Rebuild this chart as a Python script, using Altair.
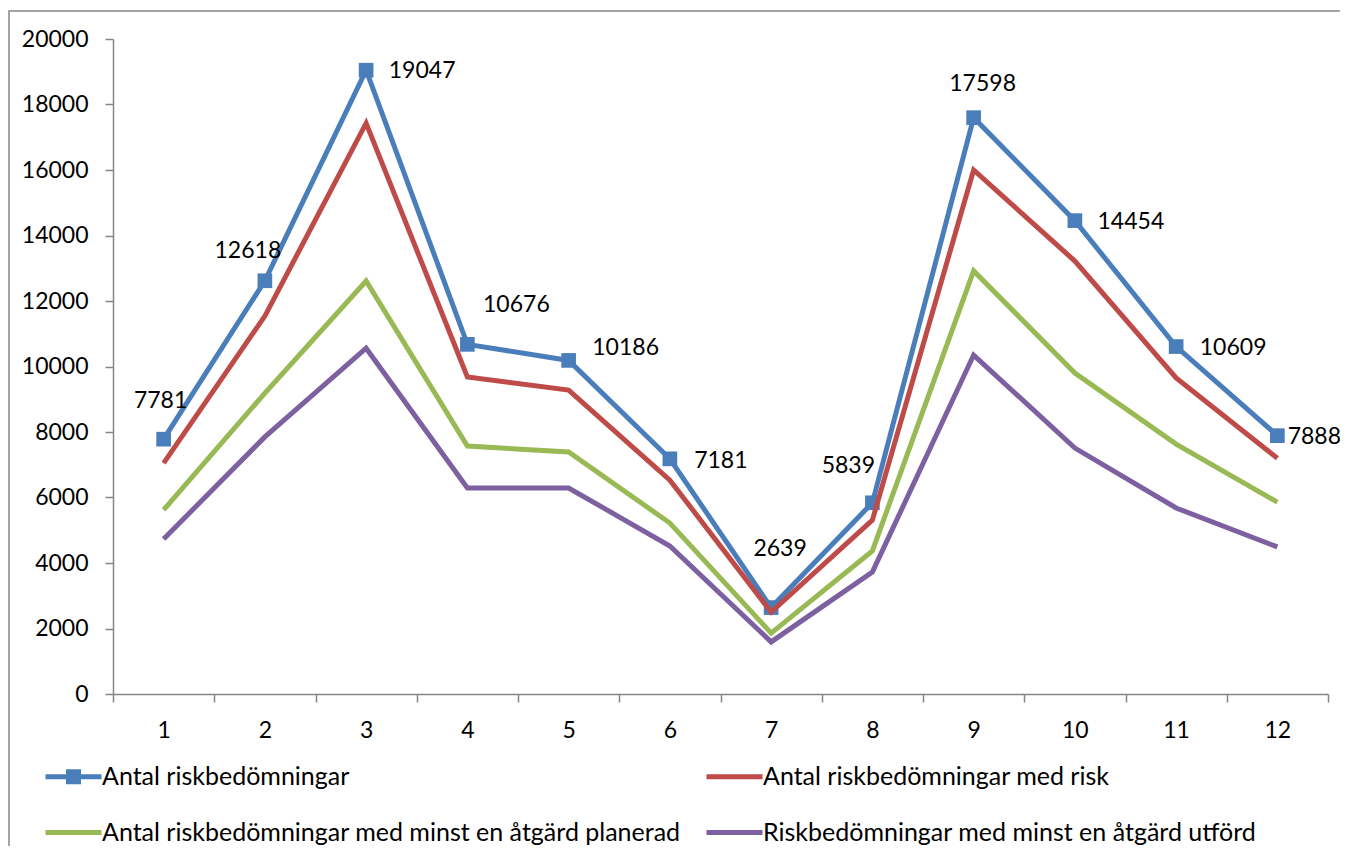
import altair as alt
import pandas as pd

months = list(range(1, 13))
series_names = [
    "Antal riskbedömningar",
    "Antal riskbedömningar med risk",
    "Antal riskbedömningar med minst en åtgärd planerad",
    "Riskbedömningar med minst en åtgärd utförd",
]
total = [7781, 12618, 19047, 10676, 10186, 7181, 2639, 5839, 17598, 14454, 10609, 7888]
with_risk = [7050, 11540, 17430, 9680, 9280, 6530, 2500, 5310, 16000, 13220, 9650, 7200]
planned = [5620, 9190, 12610, 7570, 7390, 5220, 1860, 4370, 12920, 9800, 7630, 5860]
done = [4730, 7850, 10560, 6290, 6290, 4520, 1590, 3720, 10350, 7510, 5680, 4490]

colors = ["#4A7EBB", "#BE4B48", "#98B954", "#7D60A0"]
FONT = "Lato"
FS = 23
LFS = 25

rows = []
for name, vals in zip(series_names, [total, with_risk, planned, done]):
    for m, v in zip(months, vals):
        rows.append({"month": m, "series": name, "value": v})
df = pd.DataFrame(rows)

# label placement (pixels, relative to point) per month
label_offsets = {
    1: (-3, -38), 2: (-17, -30), 3: (56, 1), 4: (49, -39), 5: (57, -12),
    6: (51, 2), 7: (9, -59), 8: (-24, -37), 9: (9, -34), 10: (56, 1),
    11: (57, 1), 12: (37, 1),
}

W, H = 1215, 655

x_enc = alt.X(
    "month:O",
    scale=alt.Scale(type="band", paddingInner=0, paddingOuter=0),
    bandPosition=0.5,
    axis=alt.Axis(
        title=None, labelAngle=0, tickBand="extent", tickSize=8,
        labelPadding=17, domainColor="#868686", tickColor="#868686",
        domainWidth=1.5, tickWidth=1.5,
    ),
)
y_enc = alt.Y(
    "value:Q",
    scale=alt.Scale(domain=[0, 20000], nice=False),
    axis=alt.Axis(
        title=None, values=list(range(0, 20001, 2000)), format="d",
        tickSize=8, labelPadding=17, domainColor="#868686",
        tickColor="#868686", domainWidth=1.5, tickWidth=1.5, grid=False,
    ),
)

color_scale = alt.Scale(domain=series_names, range=colors)

blue_df = df[df["series"] == series_names[0]]
other_df = df[df["series"] != series_names[0]]

blue_line = alt.Chart(blue_df).mark_line(strokeWidth=5, strokeJoin="miter").encode(
    x=x_enc, y=y_enc,
    color=alt.Color("series:N", scale=color_scale, legend=None),
    order=alt.Order("month:O"),
)

markers = alt.Chart(blue_df).mark_square(size=215, opacity=1).encode(
    x=x_enc, y=y_enc, color=alt.value(colors[0])
)

other_lines = alt.Chart(other_df).mark_line(strokeWidth=5, strokeJoin="miter").encode(
    x=x_enc, y=y_enc,
    color=alt.Color("series:N", scale=color_scale, legend=None),
    order=alt.Order("month:O"),
    detail="series:N",
)

line_path = "M-2.8,-0.25H2.8V0.25H-2.8Z"
marker_path = "M-2.8,-0.25H2.8V0.25H-2.8Z M-0.75,-0.75H0.75V0.75H-0.75Z"
shape_scale = alt.Scale(domain=series_names,
                        range=[marker_path, line_path, line_path, line_path])

legend_kw = dict(
    title=None, orient="none", legendX=-52, legendY=725, columns=2,
    direction="horizontal", columnPadding=25, rowPadding=30,
    labelFontSize=LFS, labelFont=FONT, labelColor="#000000",
    labelLimit=900, labelOffset=16, symbolSize=400, padding=0,
    symbolStrokeWidth=0,
)

legend_layer = alt.Chart(blue_df).transform_filter("false").mark_point(
    filled=True, opacity=1, size=210
).encode(
    x=x_enc, y=y_enc,
    color=alt.Color("series:N", scale=color_scale, legend=alt.Legend(**legend_kw)),
    shape=alt.Shape("series:N", scale=shape_scale, legend=alt.Legend(**legend_kw)),
)

label_layers = []
for m, (dx, dy) in label_offsets.items():
    label_layers.append(
        alt.Chart(blue_df).transform_filter(alt.datum.month == m)
        .mark_text(dx=dx, dy=dy, align="center", baseline="middle",
                   font=FONT, fontSize=FS, color="#000000")
        .encode(x=x_enc, y=y_enc, text=alt.Text("value:Q", format="d"))
    )

border = alt.Chart(pd.DataFrame({"a": [0]})).mark_rect(
    fill=None, stroke="#868686", strokeWidth=1.5
).encode(
    x=alt.value(-104), x2=alt.value(W + 150), y=alt.value(-28), y2=alt.value(H + 250)
)

chart = alt.layer(
    border, blue_line, markers, other_lines, legend_layer, *label_layers
).resolve_legend(
    color="independent", shape="independent"
).properties(
    width=W, height=H,
    autosize=alt.AutoSizeParams(type="none"),
    padding={"left": 105, "top": 31, "right": 12, "bottom": 152},
).configure_view(stroke=None).configure_axis(
    labelFont=FONT, labelFontSize=FS, labelColor="#000000"
)

chart.save("out.html", embed_options={"renderer": "svg", "actions": False})
